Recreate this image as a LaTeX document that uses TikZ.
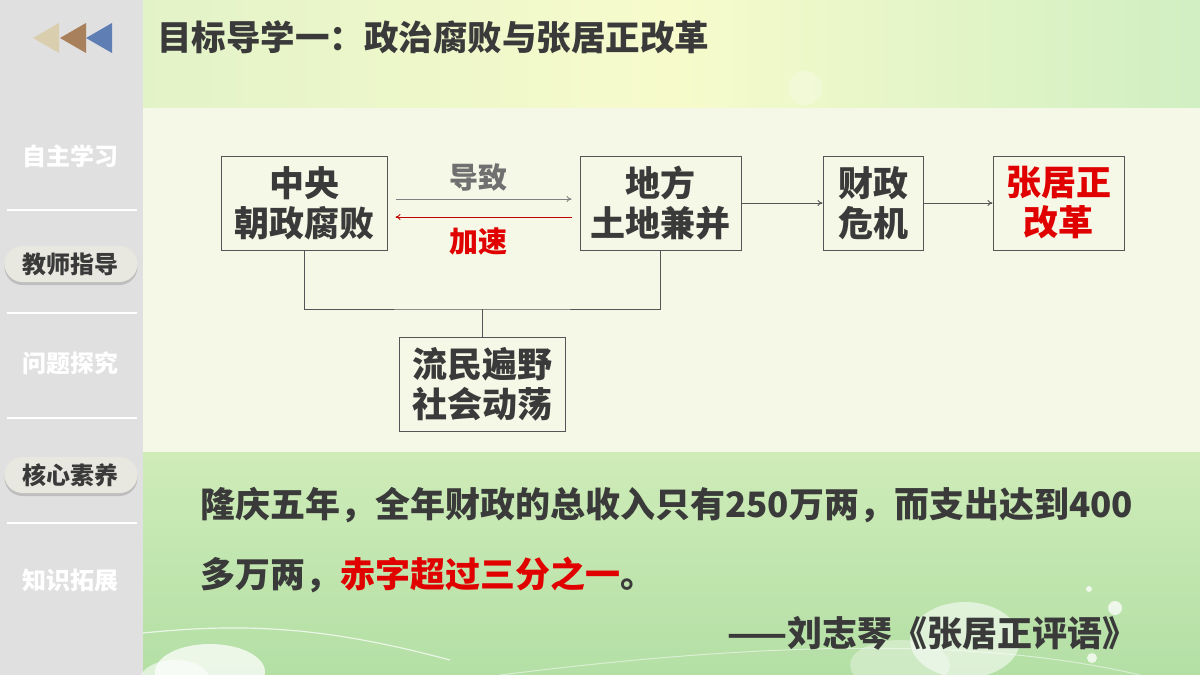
\documentclass[tikz,border=0pt]{standalone}
\usepackage{fontspec}
\setmainfont{Noto Sans CJK SC}
\usetikzlibrary{arrows.meta,shadows}
\definecolor{sidebg}{HTML}{E0E0E0}
\definecolor{panel}{HTML}{F5F8E6}
\definecolor{txt}{HTML}{3A3A3A}
\definecolor{edge}{HTML}{555555}
\definecolor{lblgray}{HTML}{707070}
\definecolor{redtxt}{HTML}{E00000}
\definecolor{pillfill}{HTML}{E9E8E0}
\definecolor{triA}{HTML}{D9CFAE}
\definecolor{triB}{HTML}{A9805C}
\definecolor{triC}{HTML}{5E7EB4}
\definecolor{topL}{HTML}{E3F3C8}
\definecolor{topM}{HTML}{F7FBCC}
\definecolor{topR}{HTML}{D0EFC2}
\definecolor{botT}{HTML}{CFECB8}
\definecolor{botB}{HTML}{B3DFA5}
\tikzset{
  box/.style={draw=edge, line width=1pt, align=center, inner sep=0pt, text=txt,
    font=\bfseries\fontsize{35}{40}\selectfont, minimum height=94pt},
  arr/.style={draw=edge, line width=0.9pt, -{To[length=5pt,width=6pt]}},
  conn/.style={draw=edge, line width=1pt},
  lbl/.style={font=\bfseries\fontsize{29}{32}\selectfont, inner sep=0pt},
  sideitem/.style={font=\bfseries\fontsize{24}{26}\selectfont, text=white, inner sep=0pt},
  pill/.style={rounded corners=18pt, fill=pillfill, minimum width=133pt, minimum height=36pt,
    text=txt, font=\bfseries\fontsize{24}{26}\selectfont, inner sep=0pt,
    drop shadow={shadow xshift=0pt, shadow yshift=-3pt, opacity=0.35}},
  divider/.style={draw=white, line width=2pt},
  body/.style={font=\bfseries\fontsize{35}{38}\selectfont, text=txt, inner sep=0pt, anchor=west}
}
\begin{document}
\begin{tikzpicture}[x=1pt,y=-1pt]
\useasboundingbox (0,0) rectangle (1200,675);
% backgrounds
\fill[sidebg] (0,0) rectangle (143,675);
\shade[left color=topL, right color=topR, middle color=topM] (143,0) rectangle (1200,108);
\fill[white, opacity=0.25] (805,88) circle (17);
\fill[panel] (143,108) rectangle (1200,452);
\shade[top color=botT, bottom color=botB] (143,452) rectangle (1200,675);
% decorative soft shapes
\fill[white, opacity=0.75] (210,672) ellipse (55 and 28);
\fill[white, opacity=0.6] (175,680) ellipse (35 and 20);
\fill[white, opacity=0.55] (965,640) ellipse (55 and 38);
\fill[white, opacity=0.35] (900,665) ellipse (50 and 25);
\fill[white, opacity=0.75] (1115,608) circle (7);
\fill[white, opacity=0.75] (1089,589) circle (3);
\fill[white, opacity=0.75] (1092,658) circle (5);
\draw[white, opacity=0.7, line width=1.2pt] (143,633) .. controls (250,622) and (330,628) .. (450,660);
\draw[white, opacity=0.5, line width=1pt] (500,675) .. controls (700,650) and (950,630) .. (1140,675);
% triangles
\fill[triA] (59,23) -- (59,53) -- (33,38) -- cycle;
\fill[triB] (86,23) -- (86,53) -- (60,38) -- cycle;
\fill[triC] (112,23) -- (112,53) -- (86,38) -- cycle;
% title
\node[font=\bfseries\fontsize{34.5}{36}\selectfont, text=txt, anchor=west, inner sep=0pt] (title) at (157,37) {目标导学一：政治腐败与张居正改革};
% sidebar
\node[sideitem] (s1) at (71,156) {自主学习};
\draw[divider] (7,210) -- (137,210);
\node[pill] (s2) at (71,264) {教师指导};
\draw[divider] (7,313) -- (137,313);
\node[sideitem] (s3) at (71,363) {问题探究};
\draw[divider] (7,418) -- (137,418);
\node[pill] (s4) at (71,475) {核心素养};
\draw[divider] (7,523) -- (137,523);
\node[sideitem] (s5) at (71,580) {知识拓展};
% diagram nodes
\node[box, minimum width=166pt] (a) at (304,203) {中央\\朝政腐败};
\node[box, minimum width=161pt] (b) at (660.5,203) {地方\\土地兼并};
\node[box, minimum width=100pt] (c) at (873,203) {财政\\危机};
\node[box, minimum width=131pt, text=redtxt] (d) at (1058.5,203) {张居正\\改革};
\node[box, minimum width=166pt] (e) at (482,384) {流民遍野\\社会动荡};
% connectors
\draw[arr, draw=gray] ([xshift=8pt,yshift=4pt]a.east) -- ([xshift=-8pt,yshift=4pt]b.west);
\draw[arr, draw=redtxt!85!black] ([xshift=-8pt,yshift=-14pt]b.west) -- ([xshift=8pt,yshift=-14pt]a.east);
\node[lbl, text=lblgray] (l1) at (478,177) {导致};
\node[lbl, text=redtxt] (l2) at (478,242) {加速};
\draw[arr] (b) -- (c);
\draw[arr] (c) -- (d);
\coordinate (j) at (482,309);
\draw[conn] (a.south) |- (j) -| (b.south);
\draw[conn] (j) -- (e.north);
% quotation
\node[body] (q1) at (200,505) {隆庆五年，全年财政的总收入只有250万两，而支出达到400};
\node[body] (q2) at (200,575) {多万两，\textcolor{redtxt}{赤字超过三分之一}。};
\node[body, anchor=east] (q3) at (1138,633) {——刘志琴《张居正评语》};
\end{tikzpicture}
\end{document}
